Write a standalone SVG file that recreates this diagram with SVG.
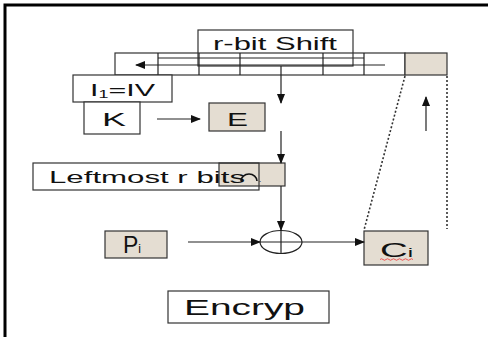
<svg xmlns="http://www.w3.org/2000/svg" width="488" height="337" viewBox="0 0 488 337">
<style>
.bx{fill:#fff;stroke:#333;stroke-width:1.2}
.bg{fill:#e4ddd2;stroke:#333;stroke-width:1.2}
.ln{stroke:#222;stroke-width:1.2;fill:none}
.dot{stroke:#333;stroke-width:1.6;fill:none;stroke-dasharray:2 2}
.t{font-family:"Liberation Sans",Arial,sans-serif;fill:#111}
</style>
<defs>
<marker id="ah" markerWidth="10" markerHeight="8" refX="9" refY="4" orient="auto" markerUnits="userSpaceOnUse">
<path d="M0,0 L10,4 L0,8 z" fill="#111"/>
</marker>
</defs>
<rect width="488" height="337" fill="#fff"/>
<g id="frame">
<path d="M5,337 V5 H488" fill="none" stroke="#000" stroke-width="3"/>
</g>
<g id="register">
<rect x="115" y="53" width="290" height="22" class="bx"/>
<rect x="405" y="53" width="42" height="22" class="bg"/>
<path class="ln" d="M158,53 V75 M199,53 V75 M240,53 V75 M323,53 V75 M364,53 V75 M158,58 H364"/>
</g>
<g id="shift">
<rect x="198" y="30" width="155" height="36" fill="none" stroke="#333" stroke-width="1.2"/>
<text class="t" x="213" y="50" font-size="18" textLength="124" lengthAdjust="spacingAndGlyphs">r-bit Shift</text>
</g>
<g id="iv">
<rect x="73" y="75" width="99" height="27" class="bx"/>
<text class="t" x="90" y="96" font-size="17" textLength="65" lengthAdjust="spacingAndGlyphs">I<tspan font-size="10" dy="2">1</tspan><tspan dy="-2">=IV</tspan></text>
</g>
<g id="k">
<rect x="84" y="102" width="56" height="32" class="bx"/>
<text class="t" x="102" y="126" font-size="18" textLength="24" lengthAdjust="spacingAndGlyphs">K</text>
</g>
<g id="e">
<rect x="209" y="103" width="56" height="28" class="bg"/>
<text class="t" x="227" y="126" font-size="19" textLength="21" lengthAdjust="spacingAndGlyphs">E</text>
</g>
<g id="leftmost">
<rect x="219" y="163" width="66" height="23" class="bg"/>
<rect x="33" y="163" width="226" height="27" fill="none" stroke="#333" stroke-width="1.2"/>
<text class="t" x="49" y="182.5" font-size="16.5" textLength="196" lengthAdjust="spacingAndGlyphs">Leftmost r bits</text>
<path d="M241,181 A8,7 0 0 1 257,181" fill="none" stroke="#111" stroke-width="1.6"/>
<text class="t" x="259" y="182" font-size="8">.</text>
</g>
<g id="xor">
<ellipse cx="281" cy="242" rx="21" ry="11.5" fill="none" stroke="#222" stroke-width="1.2"/>
<path class="ln" d="M260,242 H302 M281,230.5 V253"/>
</g>
<g id="p">
<rect x="105" y="231" width="62" height="27" class="bg"/>
<text class="t" x="123" y="253" font-size="23">P<tspan font-size="12">i</tspan></text>
</g>
<g id="c">
<rect x="364" y="231" width="64" height="34" class="bg"/>
<text class="t" x="380" y="257" font-size="21" textLength="33" lengthAdjust="spacingAndGlyphs">C<tspan font-size="13">i</tspan></text>
<path d="M380,259.5 q1.5,-1.5 3,0 t3,0 t3,0 t3,0 t3,0 t3,0 t3,0 t3,0 t3,0 t3,0 t3,0" fill="none" stroke="#e33" stroke-width="0.8"/>
</g>
<g id="encryp">
<rect x="168" y="291" width="161" height="32" class="bx"/>
<text class="t" x="184" y="315" font-size="22" textLength="121" lengthAdjust="spacingAndGlyphs">Encryp</text>
</g>
<g id="connectors">
<path class="ln" d="M385,65 H136" marker-end="url(#ah)"/>
<path class="ln" d="M281,66 V103" marker-end="url(#ah)"/>
<path class="ln" d="M157,119 H200" marker-end="url(#ah)"/>
<path class="ln" d="M281,131 V163" marker-end="url(#ah)"/>
<path class="ln" d="M281,186 V230" marker-end="url(#ah)"/>
<path class="ln" d="M188,242 H260" marker-end="url(#ah)"/>
<path class="ln" d="M302,242 H364" marker-end="url(#ah)"/>
<path class="ln" d="M426,131 V97" marker-end="url(#ah)"/>
<path class="dot" d="M405,76 L364,230"/>
<path class="dot" d="M447,76 V229"/>
</g>
</svg>
